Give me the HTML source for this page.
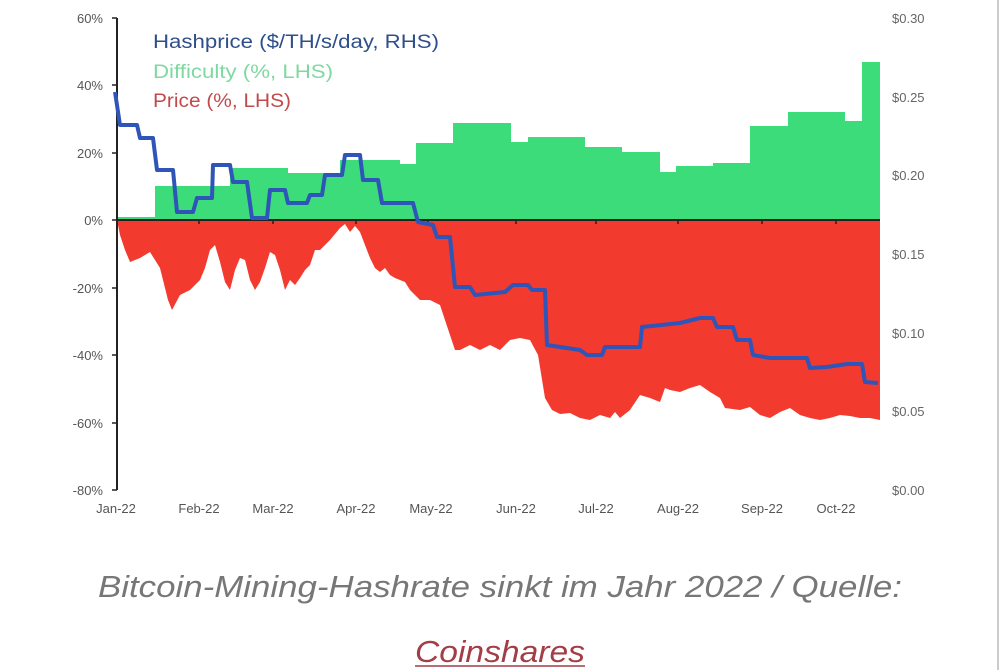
<!DOCTYPE html>
<html><head><meta charset="utf-8"><style>
html,body{margin:0;padding:0;background:#fff;width:1000px;height:670px;overflow:hidden}
</style></head><body>
<svg width="1000" height="670" viewBox="0 0 1000 670" xmlns="http://www.w3.org/2000/svg" font-family="Liberation Sans, sans-serif">
<line x1="998" y1="0" x2="998" y2="670" stroke="#ccc" stroke-width="2"/>
<path fill="#3ddc7a" d="M117,220 L117,217 L155,217 L155,186 L230,186 L230,168 L288,168 L288,173 L340,173 L340,160 L400,160 L400,164 L416,164 L416,143 L453,143 L453,123 L511,123 L511,142 L528,142 L528,137 L585,137 L585,147 L622,147 L622,152 L660,152 L660,172 L676,172 L676,166 L713,166 L713,163 L750,163 L750,126 L788,126 L788,112 L845,112 L845,121 L862,121 L862,62 L880,62 L880,220 Z"/>
<path fill="#f23a2e" d="M117,220 L120,235 L125,250 L130,262 L140,258 L150,252 L160,268 L168,300 L172,310 L180,295 L190,290 L200,280 L205,268 L210,250 L215,245 L220,262 L225,282 L230,290 L235,270 L240,258 L245,260 L250,280 L255,290 L260,282 L265,268 L270,252 L275,255 L280,270 L285,290 L290,280 L295,285 L300,278 L305,270 L310,265 L315,250 L320,250 L330,240 L340,228 L345,224 L350,232 L355,226 L360,232 L365,245 L370,258 L375,268 L380,272 L385,268 L390,275 L395,278 L400,280 L405,282 L410,290 L420,300 L430,300 L440,305 L445,320 L450,335 L455,350 L460,350 L470,345 L480,350 L490,345 L500,350 L505,345 L510,340 L520,338 L530,340 L538,355 L545,398 L552,410 L560,414 L570,413 L580,418 L590,420 L600,415 L610,418 L615,412 L620,418 L630,410 L640,395 L650,398 L660,402 L665,388 L670,390 L680,392 L690,388 L700,385 L710,392 L720,398 L725,408 L740,410 L750,407 L760,415 L770,418 L780,412 L790,408 L800,415 L810,418 L820,420 L830,418 L840,415 L850,416 L860,418 L870,418 L880,420 L880,220 Z"/>
<line x1="117" y1="18" x2="117" y2="490" stroke="#222" stroke-width="2"/>
<line x1="117" y1="220" x2="880" y2="220" stroke="#222" stroke-width="2"/>
<g stroke="#222" stroke-width="1.5">
<line x1="112" y1="18" x2="117" y2="18"/><line x1="112" y1="85" x2="117" y2="85"/><line x1="112" y1="153" x2="117" y2="153"/><line x1="112" y1="220" x2="117" y2="220"/><line x1="112" y1="288" x2="117" y2="288"/><line x1="112" y1="355" x2="117" y2="355"/><line x1="112" y1="423" x2="117" y2="423"/><line x1="112" y1="490" x2="117" y2="490"/>
<line x1="199" y1="220" x2="199" y2="224"/><line x1="273" y1="220" x2="273" y2="224"/><line x1="356" y1="220" x2="356" y2="224"/><line x1="428" y1="220" x2="428" y2="224"/><line x1="516" y1="220" x2="516" y2="224"/><line x1="596" y1="220" x2="596" y2="224"/><line x1="678" y1="220" x2="678" y2="224"/><line x1="762" y1="220" x2="762" y2="224"/><line x1="836" y1="220" x2="836" y2="224"/>
</g>
<polyline fill="none" stroke="#2f55b8" stroke-width="4" stroke-linejoin="round" points="115,92 120,125 137,125 140,138 153,138 157,170 173,170 177,212 193,212 197,198 212,198 213,165 230,165 233,182 247,182 252,218 267,218 270,190 285,190 288,203 307,203 310,195 322,195 325,175 342,175 345,155 360,155 363,180 378,180 382,203 413,203 418,222 433,225 437,237 450,237 455,287 470,287 475,295 505,292 513,285 528,285 532,290 545,290 547,345 580,350 587,355 602,355 605,347 640,347 642,327 680,323 700,318 713,318 717,327 733,327 737,340 750,340 753,355 770,358 807,358 810,368 827,367 847,364 862,364 865,382 878,383"/>
<g font-size="13" fill="#555" text-anchor="end">
<text x="103" y="23">60%</text><text x="103" y="90">40%</text><text x="103" y="158">20%</text><text x="103" y="225">0%</text><text x="103" y="293">-20%</text><text x="103" y="360">-40%</text><text x="103" y="428">-60%</text><text x="103" y="495">-80%</text>
</g>
<g font-size="13" fill="#666">
<text x="892" y="23">$0.30</text><text x="892" y="102">$0.25</text><text x="892" y="180">$0.20</text><text x="892" y="259">$0.15</text><text x="892" y="338">$0.10</text><text x="892" y="416">$0.05</text><text x="892" y="495">$0.00</text>
</g>
<g font-size="13" fill="#555" text-anchor="middle">
<text x="116" y="513">Jan-22</text><text x="199" y="513">Feb-22</text><text x="273" y="513">Mar-22</text><text x="356" y="513">Apr-22</text><text x="431" y="513">May-22</text><text x="516" y="513">Jun-22</text><text x="596" y="513">Jul-22</text><text x="678" y="513">Aug-22</text><text x="762" y="513">Sep-22</text><text x="836" y="513">Oct-22</text>
</g>
<g font-size="19">
<text x="153" y="48" fill="#2f4f8a" textLength="286" lengthAdjust="spacingAndGlyphs">Hashprice ($/TH/s/day, RHS)</text>
<text x="153" y="78" fill="#7ed9a0" textLength="180" lengthAdjust="spacingAndGlyphs">Difficulty (%, LHS)</text>
<text x="153" y="107" fill="#c24a4a" textLength="138" lengthAdjust="spacingAndGlyphs">Price (%, LHS)</text>
</g>
<text x="500" y="597" font-size="31" font-style="italic" fill="#777" text-anchor="middle" textLength="804" lengthAdjust="spacingAndGlyphs">Bitcoin-Mining-Hashrate sinkt im Jahr 2022 / Quelle:</text>
<text x="500" y="662" font-size="31" font-style="italic" fill="#a33d46" text-anchor="middle" textLength="170" lengthAdjust="spacingAndGlyphs">Coinshares</text>
<line x1="415" y1="666" x2="585" y2="666" stroke="#a33d46" stroke-width="1.5"/>
</svg>
</body></html>
